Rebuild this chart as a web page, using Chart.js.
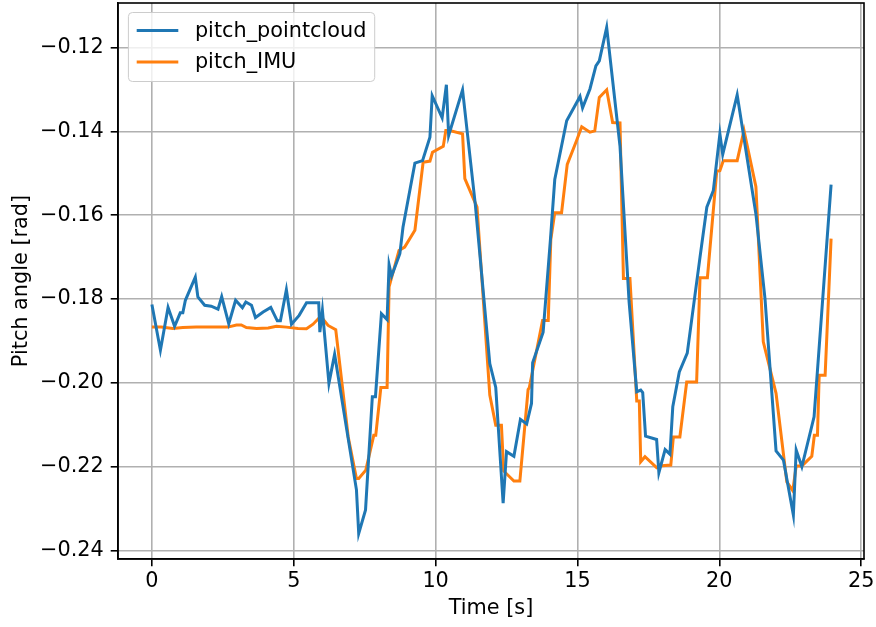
<!DOCTYPE html>
<html>
<head>
<meta charset="utf-8">
<script src="https://cdn.jsdelivr.net/npm/chart.js@4.4.0/dist/chart.umd.min.js"></script>
<style>
  html, body { margin: 0; padding: 0; background: #fff; }
  canvas { display: block; }
</style>
</head>
<body>
<canvas id="chart" width="876" height="627"></canvas>
<script>
// values
const timePointcloud = [0.00, 0.30, 0.57, 0.80, 1.00, 1.09, 1.18, 1.53, 1.62, 1.86, 2.09, 2.33, 2.46, 2.71, 2.95, 3.19, 3.31, 3.51, 3.65, 3.92,
  4.19, 4.42, 4.53, 4.74, 4.92, 5.19, 5.45, 5.88, 5.92, 6.01, 6.24, 6.44, 7.21, 7.29, 7.53, 7.77, 7.88, 8.09, 8.29, 8.36,
  8.45, 8.74, 8.85, 9.27, 9.54, 9.80, 9.88, 10.23, 10.38, 10.46, 10.95, 11.40, 11.91, 12.12, 12.38, 12.50, 12.76, 12.99, 13.21, 13.38,
  13.42, 13.79, 14.05, 14.20, 14.62, 15.09, 15.18, 15.44, 15.65, 15.77, 16.03, 16.50, 16.82, 17.09, 17.23, 17.30, 17.40, 17.79, 17.87,
  18.09, 18.26, 18.36, 18.59, 18.87, 19.32, 19.56, 19.79, 20.02, 20.12, 20.63, 21.29, 21.61, 22.00, 22.26, 22.61, 22.71, 22.91, 23.34, 23.94];
const pitchPointcloud = [-0.1813, -0.1922, -0.1820, -0.1865, -0.1833, -0.1833, -0.1803, -0.1748, -0.1795, -0.1815, -0.1817, -0.1824, -0.1794, -0.1859, -0.1803, -0.1821, -0.1807, -0.1815, -0.1844, -0.1831,
  -0.1820, -0.1852, -0.1852, -0.1778, -0.1860, -0.1839, -0.1809, -0.1809, -0.1879, -0.1827, -0.2001, -0.1932, -0.2255, -0.2359, -0.2303, -0.2033, -0.2033, -0.1835, -0.1849, -0.1718,
  -0.1745, -0.1692, -0.1629, -0.1476, -0.1470, -0.1414, -0.1315, -0.1368, -0.1289, -0.1410, -0.1301, -0.1575, -0.1954, -0.2011, -0.2287, -0.2164, -0.2175, -0.2087, -0.2098, -0.2049,
  -0.1952, -0.1879, -0.1656, -0.1515, -0.1375, -0.1317, -0.1344, -0.1299, -0.1244, -0.1232, -0.1152, -0.1436, -0.1807, -0.2021, -0.2017, -0.2023, -0.2127, -0.2135, -0.2214,
  -0.2159, -0.2170, -0.2057, -0.1974, -0.1929, -0.1700, -0.1581, -0.1541, -0.1406, -0.1455, -0.1313, -0.1597, -0.1799, -0.2162, -0.2184, -0.2315, -0.2160, -0.2200, -0.2081, -0.1527];

const timeIMU = [0.00, 0.33, 0.74, 1.09, 1.56, 2.68, 2.98, 3.15, 3.33, 3.69, 4.10, 4.39, 4.74, 5.15, 5.45, 5.68, 5.95, 6.21, 6.48, 6.92,
  7.21, 7.29, 7.54, 7.82, 7.89, 8.07, 8.29, 8.36, 8.71, 8.91, 9.27, 9.56, 9.80, 9.89, 10.27, 10.36, 10.50, 10.95, 11.03, 11.46,
  11.91, 12.12, 12.32, 12.40, 12.76, 12.97, 13.26, 13.30, 13.77, 13.97, 14.06, 14.20, 14.44, 14.64, 14.97, 15.15, 15.44, 15.61, 15.77, 16.03,
  16.24, 16.50, 16.62, 16.85, 17.09, 17.18, 17.23, 17.38, 17.79, 17.88, 18.29, 18.38, 18.61, 18.85, 19.20, 19.32, 19.58, 19.91, 20.02, 20.14,
  20.63, 20.87, 21.29, 21.55, 22.00, 22.38, 22.59, 22.71, 22.91, 23.26, 23.35, 23.46, 23.52, 23.73, 23.94];
const pitchIMU = [-0.1867, -0.1867, -0.1870, -0.1868, -0.1867, -0.1867, -0.1862, -0.1862, -0.1868, -0.1870, -0.1869, -0.1865, -0.1867, -0.1870, -0.1871, -0.1860, -0.1841, -0.1863, -0.1873, -0.2129,
  -0.2228, -0.2228, -0.2208, -0.2125, -0.2125, -0.2011, -0.2011, -0.1771, -0.1684, -0.1676, -0.1636, -0.1474, -0.1471, -0.1450, -0.1436, -0.1398, -0.1398, -0.1406, -0.1513, -0.1581,
  -0.2029, -0.2101, -0.2101, -0.2210, -0.2234, -0.2234, -0.2016, -0.2012, -0.1851, -0.1851, -0.1659, -0.1594, -0.1594, -0.1479, -0.1422, -0.1389, -0.1402, -0.1399, -0.1319, -0.1301,
  -0.1379, -0.1380, -0.1751, -0.1751, -0.2043, -0.2043, -0.2188, -0.2176, -0.2202, -0.2198, -0.2196, -0.2129, -0.2129, -0.1998, -0.1998, -0.1749, -0.1749, -0.1495, -0.1494, -0.1470,
  -0.1470, -0.1398, -0.1532, -0.1902, -0.2025, -0.2236, -0.2257, -0.2198, -0.2198, -0.2175, -0.2125, -0.2125, -0.1982, -0.1982, -0.1656];

const xTicks = [0, 5, 10, 15, 20, 25];
const yTicks = [-0.24, -0.22, -0.20, -0.18, -0.16, -0.14, -0.12];

const FS = 20.8;
Chart.defaults.font.family = '"DejaVu Sans", sans-serif';
Chart.defaults.font.size = FS;
Chart.defaults.color = '#000';

function toPoints(xs, ys) {
  return xs.map(function(x, i) { return { x: x, y: ys[i] }; });
}

// top/right spines, matplotlib style
const frame = {
  id: 'frame',
  afterDatasetsDraw(chart) {
    const a = chart.chartArea, ctx = chart.ctx;
    ctx.save();
    ctx.strokeStyle = '#000';
    ctx.lineWidth = 1.6;
    ctx.strokeRect(a.left, a.top, a.right - a.left, a.bottom - a.top);
    ctx.restore();
  }
};

// legend box in the upper left of the axes
const legendBox = {
  id: 'legendBox',
  afterDraw(chart) {
    const ctx = chart.ctx, a = chart.chartArea;
    const sets = chart.data.datasets;
    ctx.save();
    ctx.font = FS + 'px "DejaVu Sans"';
    const textW = Math.max.apply(null, sets.map(function(d) { return ctx.measureText(d.label).width; }));
    const x0 = a.left + 10.4, y0 = a.top + 9.5;
    const w = 8.3 + 41.6 + 16.6 + textW + 8.3, h = 69, r = 4;
    ctx.beginPath();
    ctx.moveTo(x0 + r, y0);
    ctx.lineTo(x0 + w - r, y0);
    ctx.arcTo(x0 + w, y0, x0 + w, y0 + r, r);
    ctx.lineTo(x0 + w, y0 + h - r);
    ctx.arcTo(x0 + w, y0 + h, x0 + w - r, y0 + h, r);
    ctx.lineTo(x0 + r, y0 + h);
    ctx.arcTo(x0, y0 + h, x0, y0 + h - r, r);
    ctx.lineTo(x0, y0 + r);
    ctx.arcTo(x0, y0, x0 + r, y0, r);
    ctx.closePath();
    ctx.fillStyle = 'rgba(255,255,255,0.8)';
    ctx.fill();
    ctx.strokeStyle = '#cccccc';
    ctx.lineWidth = 1;
    ctx.stroke();
    sets.forEach(function(d, i) {
      const cy = y0 + 18 + i * 31.4;
      ctx.beginPath();
      ctx.moveTo(x0 + 8.3, cy);
      ctx.lineTo(x0 + 49.9, cy);
      ctx.strokeStyle = d.borderColor;
      ctx.lineWidth = d.borderWidth;
      ctx.stroke();
      ctx.fillStyle = '#000';
      ctx.textBaseline = 'middle';
      ctx.textAlign = 'left';
      ctx.fillText(d.label, x0 + 66.5, cy + 1);
    });
    ctx.restore();
  }
};

new Chart(document.getElementById('chart'), {
  type: 'line',
  data: {
    datasets: [
      {
        label: 'pitch_pointcloud',
        data: toPoints(timePointcloud, pitchPointcloud),
        borderColor: '#1f77b4',
        borderWidth: 3,
        pointRadius: 0,
        tension: 0,
        fill: false
      },
      {
        label: 'pitch_IMU',
        data: toPoints(timeIMU, pitchIMU),
        borderColor: '#ff7f0e',
        borderWidth: 3,
        pointRadius: 0,
        tension: 0,
        fill: false
      }
    ]
  },
  options: {
    responsive: false,
    animation: false,
    devicePixelRatio: 1,
    layout: { padding: { top: 3, right: 12, left: 0, bottom: 0 } },
    plugins: {
      legend: { display: false },
      tooltip: { enabled: false }
    },
    scales: {
      x: {
        type: 'linear',
        min: -1.195,
        max: 25.1,
        afterBuildTicks: function(scale) {
          scale.ticks = xTicks.map(function(v) { return { value: v }; });
        },
        afterFit: function(scale) {
          scale.height = 68;
          scale.paddingLeft = 0;
          scale.paddingRight = 0;
        },
        ticks: {
          autoSkip: false,
          maxRotation: 0,
          padding: 3,
          callback: function(v) { return String(v); }
        },
        grid: { color: '#b0b0b0', lineWidth: 1.6, tickColor: '#000', tickLength: 7.3, tickWidth: 1.6 },
        border: { display: true, color: '#000', width: 1.6 },
        title: { display: true, text: 'Time [s]', padding: { top: 4, bottom: 5.5 } }
      },
      y: {
        type: 'linear',
        min: -0.2420,
        max: -0.1094,
        afterBuildTicks: function(scale) {
          scale.ticks = yTicks.map(function(v) { return { value: v }; });
        },
        afterFit: function(scale) {
          scale.width = 118;
          scale.paddingTop = 0;
          scale.paddingBottom = 0;
        },
        ticks: {
          autoSkip: false,
          padding: 7,
          callback: function(v) { return (v < 0 ? '\u2212' : '') + Math.abs(v).toFixed(2); }
        },
        grid: { color: '#b0b0b0', lineWidth: 1.6, tickColor: '#000', tickLength: 7.3, tickWidth: 1.6 },
        border: { display: true, color: '#000', width: 1.6 },
        title: { display: true, text: 'Pitch angle [rad]', padding: { top: 9, bottom: 4 } }
      }
    }
  },
  plugins: [frame, legendBox]
});
</script>
</body>
</html>
